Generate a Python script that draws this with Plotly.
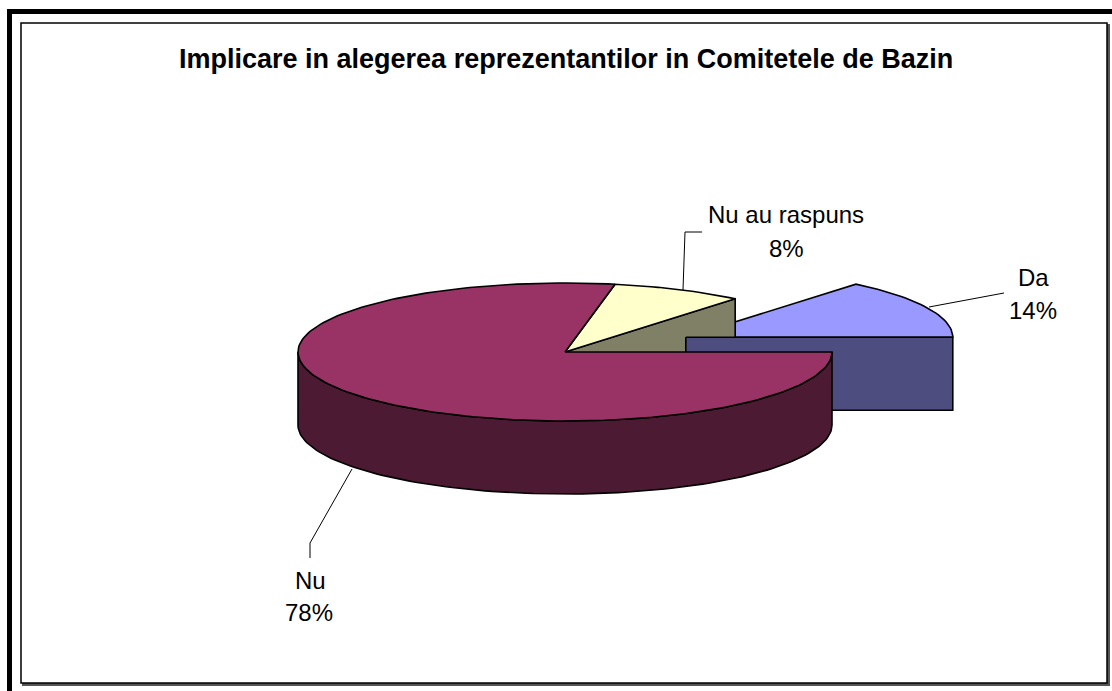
import numpy as np
import plotly.graph_objects as go

# ---- data ----
labels = ["Da", "Nu", "Nu au raspuns"]
values = [14, 78, 8]
title_text = "Implicare in alegerea reprezentantilor in Comitetele de Bazin"

# ---- style / geometry ----
top_colors = ["#9999FF", "#993366", "#FFFFCC"]
side_colors = ["#4D4D80", "#4D1A33", "#808066"]
pulls = [0.5, 0.0, 0.0]
CX, CY = 565, 352
RX, RY = 267, 69
DEPTH = 73
FIRST_SLICE_ANGLE = 39.6   # degrees clockwise from 12 o'clock
W, H = 1112, 691
FONT = "Arial, Liberation Sans, sans-serif"

total = float(sum(values))
slices = []
cur = 90.0 - FIRST_SLICE_ANGLE
for v, p in zip(values, pulls):
    hi = cur
    lo = cur - 360.0 * v / total
    cur = lo
    mid = np.radians((lo + hi) / 2)
    off = (p * RX * np.cos(mid), -p * RY * np.sin(mid))
    slices.append(dict(lo=lo, hi=hi, off=off))


def pt(s, th_deg, dz=0.0):
    t = np.radians(th_deg)
    return (CX + s["off"][0] + RX * np.cos(t), CY + s["off"][1] - RY * np.sin(t) + dz)


def center(s, dz=0.0):
    return (CX + s["off"][0], CY + s["off"][1] + dz)


def arc(s, a, b, dz=0.0, n=None):
    if n is None:
        n = max(4, int(abs(b - a) / 1.5))
    return [pt(s, t, dz) for t in np.linspace(a, b, n)]


def face_top(s):
    return [center(s)] + arc(s, s["lo"], s["hi"]) + [center(s)]


def face_cut(s, ang):
    return [center(s), pt(s, ang), pt(s, ang, DEPTH), center(s, DEPTH), center(s)]


def face_side(s):
    # visible front part: angles where sin < 0, i.e. [-180, 0] (+k*360)
    polys = []
    for k in range(-2, 3):
        a = max(s["lo"], -180 + 360 * k)
        b = min(s["hi"], 0 + 360 * k)
        if b > a:
            top = arc(s, a, b)
            bot = arc(s, b, a, DEPTH)
            polys.append(top + bot + [top[0]])
    return polys


order = [(0, "top"), (2, "cut_lo"), (2, "top"), (0, "cut_lo"), (1, "side"), (1, "top")]

fig = go.Figure()
for i, kind in order:
    s = slices[i]
    if kind == "top":
        polys, col = [face_top(s)], top_colors[i]
    elif kind == "cut_lo":
        polys, col = [face_cut(s, s["lo"])], side_colors[i]
    else:
        polys, col = face_side(s), side_colors[i]
    for poly in polys:
        xs, ys = zip(*poly)
        fig.add_trace(go.Scatter(x=xs, y=ys, mode="lines", fill="toself",
                                 fillcolor=col, line=dict(color="black", width=1.6),
                                 hoverinfo="skip", showlegend=False))

# ---- labels and leader lines ----
label_pos = [  # (name center, pct center) in pixels
    ((1033, 277), (1033, 310)),
    ((310, 580), (309, 612)),
    ((786, 214), (786, 248)),
]
leaders = [
    [(929, 307), (1004, 293)],
    [(352, 469), (310, 543), (310, 558)],
    [(683, 290), (685, 232), (702, 232)],
]
annotations = []
for i, lab in enumerate(labels):
    pct = f"{round(100 * values[i] / total):.0f}%"
    for txt, (x, y) in zip([lab, pct], label_pos[i]):
        annotations.append(dict(x=x, y=y, xref="x", yref="y", text=txt, showarrow=False,
                                font=dict(family=FONT, size=24, color="black"),
                                xanchor="center", yanchor="middle"))
    xs, ys = zip(*leaders[i])
    fig.add_trace(go.Scatter(x=xs, y=ys, mode="lines", line=dict(color="black", width=1),
                             hoverinfo="skip", showlegend=False))

annotations.append(dict(x=566, y=59, xref="x", yref="y", text=f"<b>{title_text}</b>",
                        showarrow=False, font=dict(family=FONT, size=27, color="black"),
                        xanchor="center", yanchor="middle"))

shapes = [
    dict(type="rect", x0=9.5, y0=11.5, x1=1125, y1=705, xref="x", yref="y",
         line=dict(color="black", width=5), layer="below"),
    dict(type="rect", x0=23, y0=25, x1=1109, y1=685, xref="x", yref="y",
         line=dict(color="#555555", width=2), fillcolor="#555555", layer="below"),
    dict(type="rect", x0=21, y0=23, x1=1107, y1=683, xref="x", yref="y",
         line=dict(color="black", width=1.5), fillcolor="white", layer="below"),
]

fig.update_layout(
    width=W, height=H, margin=dict(l=0, r=0, t=0, b=0),
    paper_bgcolor="white", plot_bgcolor="white",
    xaxis=dict(range=[0, W], visible=False, fixedrange=True),
    yaxis=dict(range=[H, 0], visible=False, fixedrange=True),
    annotations=annotations, shapes=shapes,
)
fig.write_html("out.html", config={"displayModeBar": False},
               post_script="document.body.style.margin='0px';document.body.style.overflow='hidden';")
